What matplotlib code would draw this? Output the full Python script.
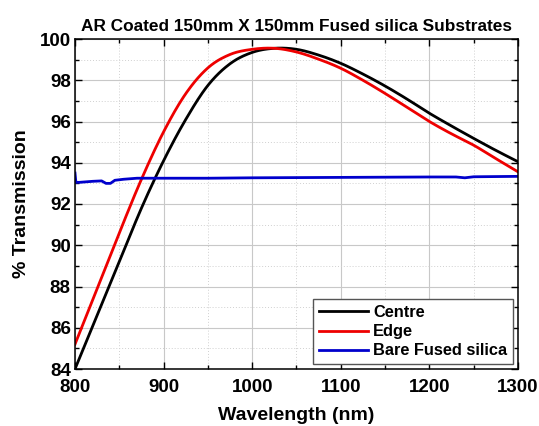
import matplotlib
matplotlib.use("Agg")
import matplotlib.pyplot as plt
from matplotlib.ticker import MultipleLocator
import numpy as np

plt.rcParams["font.family"] = ["Liberation Sans", "DejaVu Sans"]
plt.rcParams["font.weight"] = "bold"

# Transmission spectra (% T) read at fixed wavelengths
wl_coated = [800, 825, 850, 875, 900, 925, 950, 975, 1000, 1025, 1050,
             1075, 1100, 1125, 1150, 1175, 1200, 1225, 1250, 1275, 1300]
centre = [84.0, 86.6, 89.2, 91.8, 94.1, 96.1, 97.75, 98.8, 99.35, 99.55, 99.5,
          99.22, 98.82, 98.3, 97.72, 97.08, 96.4, 95.78, 95.18, 94.6, 94.05]
edge = [85.2, 87.9, 90.6, 93.2, 95.5, 97.35, 98.6, 99.25, 99.5, 99.55, 99.37,
        99.02, 98.58, 98.0, 97.36, 96.68, 96.0, 95.4, 94.85, 94.2, 93.56]

wl_bare = [800, 801, 805, 820, 830, 835, 840, 845, 855, 870, 900, 950, 1000,
           1050, 1100, 1150, 1200, 1230, 1240, 1250, 1300]
bare = [93.5, 93.05, 93.05, 93.1, 93.12, 93.0, 93.0, 93.15, 93.2, 93.25, 93.25,
        93.25, 93.27, 93.28, 93.29, 93.3, 93.31, 93.31, 93.27, 93.32, 93.34]

x_ticks = [800, 900, 1000, 1100, 1200, 1300]
y_ticks = [84, 86, 88, 90, 92, 94, 96, 98, 100]


def hermite(x, y, per_seg=20):
    # Catmull-Rom style cubic through the sampled points
    x = np.asarray(x, float)
    y = np.asarray(y, float)
    m = np.gradient(y, x)
    xs, ys = [], []
    for i in range(len(x) - 1):
        h = x[i + 1] - x[i]
        t = np.linspace(0, 1, per_seg, endpoint=False)
        h00 = 2 * t**3 - 3 * t**2 + 1
        h10 = t**3 - 2 * t**2 + t
        h01 = -2 * t**3 + 3 * t**2
        h11 = t**3 - t**2
        xs.append(x[i] + t * h)
        ys.append(h00 * y[i] + h10 * h * m[i] + h01 * y[i + 1] + h11 * h * m[i + 1])
    xs.append([x[-1]])
    ys.append([y[-1]])
    return np.concatenate(xs), np.concatenate(ys)


fig = plt.figure(figsize=(5.39, 4.26), dpi=100)
ax = fig.add_axes([75 / 539, 57 / 426, 443 / 539, 330 / 426])

xc, yc = hermite(wl_coated, centre)
xe, ye = hermite(wl_coated, edge)
ax.plot(xc, yc, color="black", lw=2.0, label="Centre")
ax.plot(xe, ye, color="#ee0000", lw=2.0, label="Edge")
ax.plot(wl_bare, bare, color="#0000cc", lw=2.0, label="Bare Fused silica")

ax.set_xlim(800, 1300)
ax.set_ylim(84, 100)
ax.set_xticks(x_ticks)
ax.set_yticks(y_ticks)
ax.xaxis.set_minor_locator(MultipleLocator(50))
ax.yaxis.set_minor_locator(MultipleLocator(1))

ax.grid(which="major", color="#c8c8c8", lw=0.8)
ax.grid(which="minor", color="#d0d0d0", lw=0.7, ls=(0, (1, 2)))
ax.set_axisbelow(True)

ax.tick_params(which="both", direction="in", top=True, right=True,
               labelsize=13.5, width=1)
ax.tick_params(which="major", length=5)
ax.tick_params(which="minor", length=3)
ax.tick_params(axis="x", pad=7)
ax.tick_params(axis="y", pad=3)
for lab in ax.get_xticklabels() + ax.get_yticklabels():
    lab.set_fontweight("bold")
for sp in ax.spines.values():
    sp.set_linewidth(1.1)

ax.set_title("AR Coated 150mm X 150mm Fused silica Substrates",
             fontsize=12.4, fontweight="bold", pad=6)
ax.set_xlabel("Wavelength (nm)", fontsize=14, fontweight="bold", labelpad=8)
ax.set_ylabel("% Transmission", fontsize=14, fontweight="bold", labelpad=7)

leg = ax.legend(loc="lower right", fontsize=11.8, fancybox=False,
                framealpha=1, edgecolor="#555555", handlelength=3.0,
                borderaxespad=0.3, labelspacing=0.25, handletextpad=0.3,
                borderpad=0.35)
leg.get_frame().set_linewidth(1.0)
for t in leg.get_texts():
    t.set_fontweight("bold")

fig.savefig("out.png", dpi=100, facecolor="white")
